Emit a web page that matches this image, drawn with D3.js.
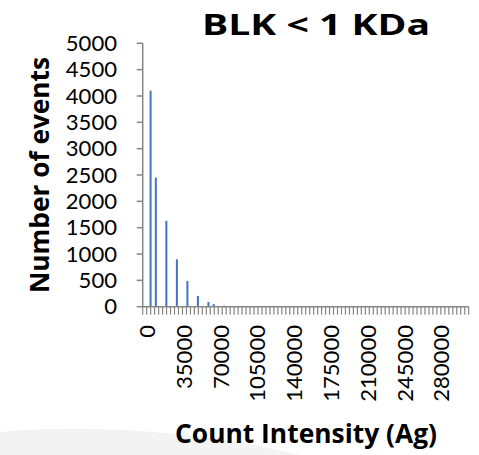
<!DOCTYPE html>
<html><head><meta charset="utf-8">
<script src="https://cdn.jsdelivr.net/npm/d3@7"></script>
<style>body{margin:0;background:#fff}svg{display:block}text{font-family:"Open Sans",Lato,sans-serif}</style>
</head><body>
<script>
const binWidth = 5000;
const binCount = 62;
const categories = d3.range(binCount).map(i => i * binWidth);
const counts = {5000: 4100, 10000: 2450, 20000: 1630, 30000: 900, 40000: 490, 50000: 205, 60000: 90, 65000: 48, 75000: 20};
const values = categories.map(c => counts[c] || 0);
const yTicks = d3.range(0, 5001, 500);
const labelEvery = 7;
const title = "BLK < 1 KDa";
const xTitle = "Count Intensity (Ag)";
const yTitle = "Number of events";

const W = 479, H = 455;
const m = {left: 142.7, right: 468.7, top: 43.3, bottom: 306.7};
const svg = d3.select("body").append("svg").attr("width", W).attr("height", H);

// background swoosh
svg.append("path").attr("d", `M0,455 L0,432 C80,424 200,430 300,455 Z`).attr("fill", "#f3f3f3");

const xb = d3.scaleBand().domain(categories).range([m.left, m.right]);
const y = d3.scaleLinear().domain([0, 5000]).range([m.bottom, m.top]);

svg.selectAll("rect.bar").data(categories).join("rect").attr("class", "bar")
  .attr("x", d => xb(d) + xb.bandwidth()/2 - 1)
  .attr("width", 2)
  .attr("y", (d, i) => y(values[i]))
  .attr("height", (d, i) => m.bottom - y(values[i]))
  .attr("fill", "#4472C4");

const axisColor = "#868686";
const digitW = 12.8;
// y axis
svg.append("line").attr("x1", m.left).attr("x2", m.left).attr("y1", m.top).attr("y2", m.bottom)
  .attr("stroke", axisColor).attr("stroke-width", 1.5);
svg.selectAll("line.yt").data(yTicks).join("line").attr("class", "yt")
  .attr("x1", m.left - 6).attr("x2", m.left).attr("y1", d => y(d)).attr("y2", d => y(d))
  .attr("stroke", axisColor).attr("stroke-width", 1.5);
svg.selectAll("text.yl").data(yTicks).join("text").attr("class", "yl")
  .attr("x", 117).attr("y", d => y(d)).attr("dy", "0.36em").attr("text-anchor", "end")
  .style("font-family", "Lato, sans-serif")
  .attr("font-size", 21).attr("fill", "#000")
  .attr("textLength", d => String(d).length * digitW).attr("lengthAdjust", "spacingAndGlyphs")
  .text(d => d);

// x axis
svg.append("line").attr("x1", m.left).attr("x2", m.right).attr("y1", m.bottom).attr("y2", m.bottom)
  .attr("stroke", axisColor).attr("stroke-width", 1.5);
const nMinor = 82;
const tickX = d3.scaleLinear().domain([0, nMinor]).range([m.left, m.right]);
svg.selectAll("line.xt").data(d3.range(nMinor + 1)).join("line").attr("class", "xt")
  .attr("x1", d => tickX(d)).attr("x2", d => tickX(d)).attr("y1", m.bottom).attr("y2", m.bottom + 8)
  .attr("stroke", axisColor).attr("stroke-width", 1.2);
const xLabels = categories.filter((d, i) => i % labelEvery === 0);
svg.selectAll("text.xl").data(xLabels).join("text").attr("class", "xl")
  .attr("transform", d => `translate(${xb(d) + xb.bandwidth()/2 + 2},325) rotate(-90)`)
  .attr("text-anchor", "end").attr("dy", "0.36em")
  .style("font-family", "Lato, sans-serif")
  .attr("font-size", 21).attr("fill", "#000")
  .attr("textLength", d => String(d).length * digitW).attr("lengthAdjust", "spacingAndGlyphs")
  .text(d => d);

// titles
svg.append("text").attr("x", 316).attr("y", 35).attr("text-anchor", "middle")
  .attr("font-size", 28).attr("font-weight", "bold")
  .attr("textLength", 228).attr("lengthAdjust", "spacingAndGlyphs").text(title);
svg.append("text").attr("x", 306).attr("y", 443).attr("text-anchor", "middle")
  .attr("font-size", 27).attr("font-weight", "bold")
  .attr("textLength", 262).attr("lengthAdjust", "spacingAndGlyphs").text(xTitle);
svg.append("text").attr("transform", "translate(48.5,175) rotate(-90)").attr("text-anchor", "middle")
  .attr("font-size", 27).attr("font-weight", "bold")
  .attr("textLength", 236).attr("lengthAdjust", "spacingAndGlyphs").text(yTitle);
</script>
</body></html>
